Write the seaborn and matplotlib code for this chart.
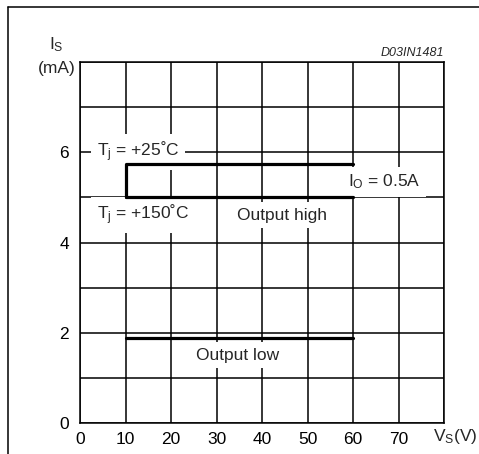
import matplotlib
matplotlib.use("Agg")
import matplotlib.pyplot as plt
from matplotlib.lines import Line2D
import seaborn as sns
import pandas as pd

# ---- data ----
x_25 = [10, 10, 60]
y_25 = [5.02, 5.75, 5.75]          # Tj = +25°C, Output high
x_150 = [10, 60]
y_150 = [5.02, 5.02]               # Tj = +150°C, Output high
x_low = [10, 60]
y_low = [1.89, 1.89]               # Output low
x_ticks = [0, 10, 20, 30, 40, 50, 60, 70, 80]
x_ticklabels = ["0", "10", "20", "30", "40", "50", "60", "70", ""]
y_ticks = [0, 1, 2, 3, 4, 5, 6, 7, 8]
y_ticklabels = ["0", "", "2", "", "4", "", "6", "", ""]

sns.set_theme(style="white")
plt.rcParams["font.family"] = ["Liberation Sans", "DejaVu Sans"]
plt.rcParams["mathtext.fontset"] = "custom"
plt.rcParams["mathtext.rm"] = "Liberation Sans"
plt.rcParams["mathtext.it"] = "Liberation Sans:italic"

fig = plt.figure(figsize=(4.79, 4.54), dpi=100)
W, H = 479, 454
ax = fig.add_axes([80 / W, 1 - 423.3 / H, (444.3 - 80) / W, (423.3 - 62) / H])

lw_data = 2.3
sns.lineplot(x=x_25, y=y_25, sort=False, estimator=None, color="black", lw=lw_data, ax=ax, zorder=6)
sns.lineplot(x=x_150, y=y_150, sort=False, estimator=None, color="black", lw=lw_data, ax=ax, zorder=6)
sns.lineplot(x=x_low, y=y_low, sort=False, estimator=None, color="black", lw=lw_data, ax=ax, zorder=6)

ax.set_xlim(0, 80)
ax.set_ylim(0, 8)
ax.set_xticks(x_ticks)
ax.set_xticklabels(x_ticklabels)
ax.set_yticks(y_ticks)
ax.set_yticklabels(y_ticklabels)
ax.tick_params(axis="both", length=0, labelsize=12.5, colors="black")
ax.tick_params(axis="x", pad=6)
ax.tick_params(axis="y", pad=8)
ax.grid(True, color="black", lw=1.1)
ax.set_axisbelow(True)
for s in ax.spines.values():
    s.set_color("black")
    s.set_linewidth(1.1)
ax.set_xlabel("")
ax.set_ylabel("")

fs = 12.5
box = dict(facecolor="white", edgecolor="none", pad=4)
ax.text(3.7, 6.01, r"$\mathregular{T_j}$ = +25˚C", fontsize=fs, ha="left", va="center", bbox=box, zorder=4)
ax.text(3.7, 4.61, r"$\mathregular{T_j}$ = +150˚C", fontsize=fs, ha="left", va="center", bbox=box, zorder=4)
ax.text(34.4, 4.61, "Output high", fontsize=fs, ha="left", va="center", bbox=box, zorder=4)
ax.text(58.8, 5.34, r"$\mathregular{I_O}$ = 0.5A", fontsize=fs, ha="left", va="center", bbox=box, zorder=4)
ax.text(34.6, 1.51, "Output low", fontsize=fs, ha="center", va="center", bbox=box, zorder=4)

# axis titles
ax.text(82.3, -0.3, r"$\mathregular{V_S}$(V)", fontsize=fs, ha="center", va="center", clip_on=False)
fig.text(56 / W, 1 - 45 / H, r"$\mathregular{I_S}$", fontsize=fs, ha="center", va="center")
fig.text(57 / W, 1 - 68.5 / H, "(mA)", fontsize=fs, ha="center", va="center")
ax.text(1.0, 1.0 + 9.5 / 361.3, "D03IN1481", fontsize=9, style="italic",
        ha="right", va="center", transform=ax.transAxes)

# outer frame (top and left)
fig.add_artist(Line2D([8 / W, 1.0], [1 - 7 / H, 1 - 7 / H], color="black", lw=1.1, transform=fig.transFigure))
fig.add_artist(Line2D([8 / W, 8 / W], [0, 1 - 7 / H], color="black", lw=1.1, transform=fig.transFigure))

fig.savefig("out.png", dpi=100)
